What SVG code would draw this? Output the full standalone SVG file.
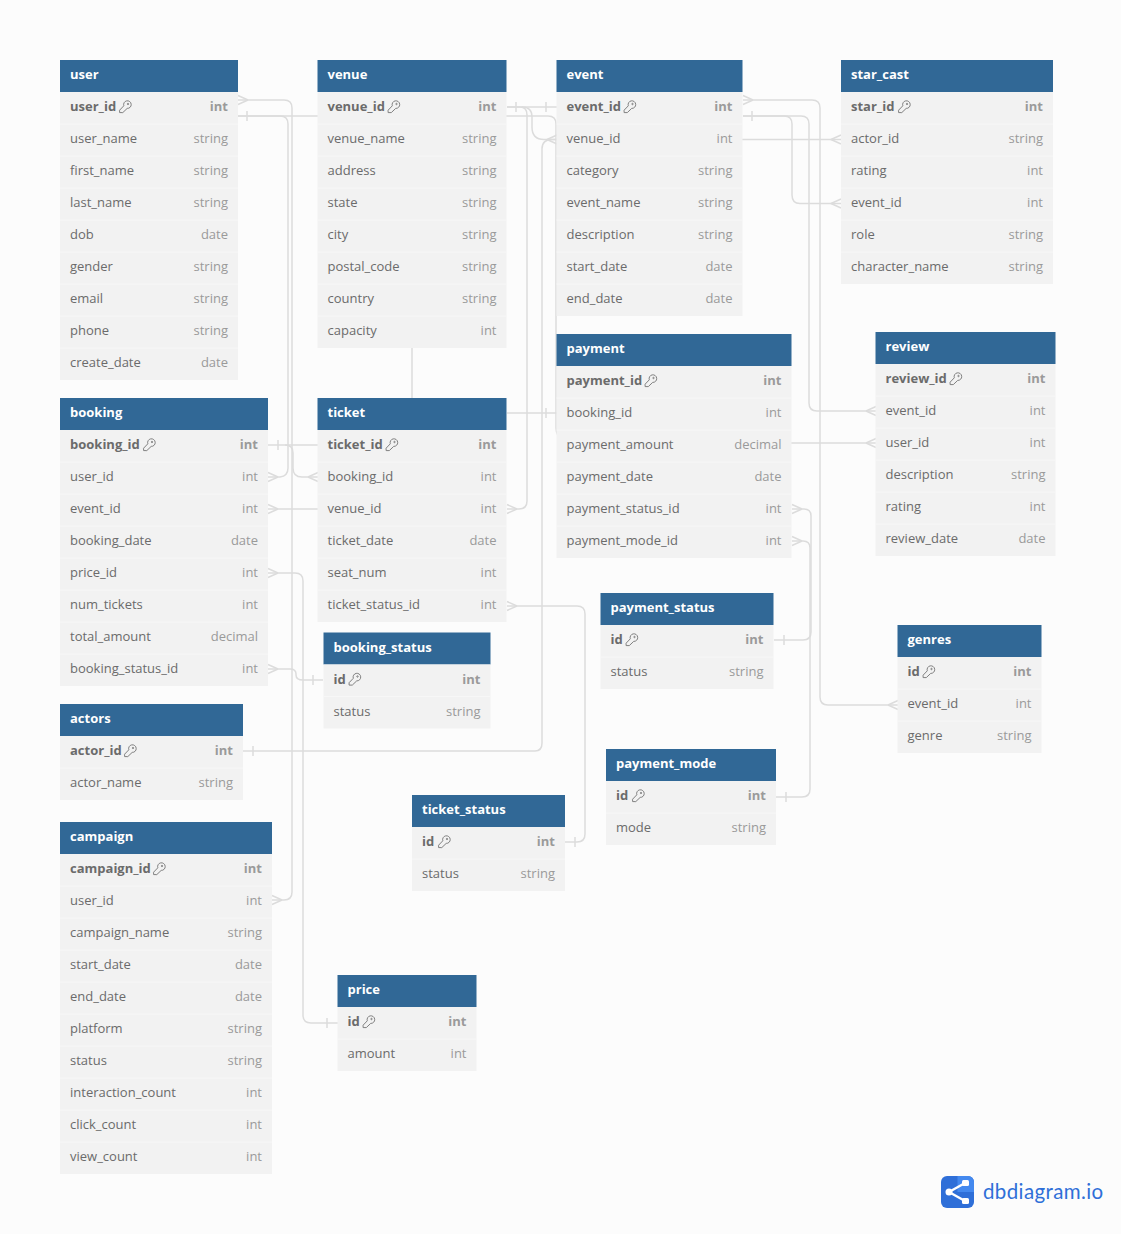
<svg xmlns="http://www.w3.org/2000/svg" width="1121" height="1234" viewBox="0 0 1121 1234">
<style>
text{font-family:"Open Sans","Noto Sans",sans-serif;font-size:13px;fill:#6b6b6b}
.h{fill:#316896}
.b{fill:#f2f2f2}
.s{stroke:#f7f7f7;stroke-width:1;fill:none}
.t{font-weight:700;fill:#fff}
.p{font-weight:700}
.ty{text-anchor:end;fill:#9a9a9a}
.pt{text-anchor:end;fill:#9a9a9a;font-weight:700}
.c path,.c use{fill:none;stroke:#dcdcdc;stroke-width:1.5}
.k{fill:none;stroke:#808080;stroke-width:1}
</style>
<defs>
<path id="crR" d="M0-4.500L10 0M0 4.500L10 0"/>
<path id="crL" d="M0-4.500L-10 0M0 4.500L-10 0"/>
<path id="tk" d="M0-5V5"/>
<g id="key"><path class="k" d="M4.800-1.200A3.800 3.800 0 1 1 8.200 1.400L3.800 5.600H0.600V3.200Z"/><circle cx="9" cy="-3" r=".7" class="k"/></g>
</defs>
<rect width="1121" height="1234" fill="#fcfcfc"/>
<g id="connectors" class="c">
<path d="M238 100H284Q292 100 292 108V892Q292 900 284 900H272"/>
<path d="M238 116H280Q288 116 288 124V468Q288 476 280 477H268"/>
<path d="M238 116H548Q556 116 556 124V428Q556 436 564 443H876"/>
<path d="M507 107H557"/>
<path d="M507 107H520Q527 107 527 115V501Q527 509 519 509H507"/>
<path d="M522 107Q532 107 532 117V127Q532 139.500 544 139.500H557"/>
<path d="M243 751H535Q542 751 542 743V149Q542 139.500 552 139.500H841"/>
<path d="M412 348V398"/>
<path d="M507 413H557"/>
<path d="M268 445H318"/>
<path d="M285 445Q293 445 293 453V468Q293 477 302 477H318"/>
<path d="M268 509H318"/>
<path d="M268 573H295Q303 573 303 581V1015Q303 1023 311 1023H338"/>
<path d="M268 669H290Q296 669 296 674V675Q296 680 303 680H323"/>
<path d="M507 606H577Q585 606 585 614V834Q585 842 577 842H565"/>
<path d="M743 100H812Q820 100 820 108V697Q820 705 828 705H898"/>
<path d="M743 116H784Q792 116 792 124V195Q792 203.500 800 203.500H841"/>
<path d="M743 116H801Q809 116 809 124V403Q809 411 817 411H876"/>
<path d="M792 509H804Q811 509 811 516V632Q811 640 803 640H774"/>
<path d="M792 541H803Q810 541 810 548V789Q810 797 802 797H776"/>
<use href="#crR" x="238" y="100"/><use href="#crR" x="272" y="900"/><use href="#tk" x="247" y="116"/><use href="#crR" x="268" y="477"/>
<use href="#crL" x="876" y="443"/><use href="#tk" x="516" y="107"/><use href="#tk" x="546" y="107"/><use href="#crR" x="507" y="509"/>
<use href="#crL" x="557" y="139.500"/><use href="#tk" x="253" y="751"/><use href="#crL" x="841" y="139.500"/><use href="#tk" x="546" y="413"/>
<use href="#tk" x="278" y="445"/><use href="#crL" x="318" y="477"/><use href="#crR" x="268" y="509"/><use href="#crR" x="268" y="573"/>
<use href="#tk" x="327" y="1023"/><use href="#crR" x="268" y="669"/><use href="#tk" x="313" y="680"/><use href="#crR" x="507" y="606"/>
<use href="#tk" x="575" y="842"/><use href="#crR" x="743" y="100"/><use href="#crL" x="898" y="705"/><use href="#tk" x="752" y="116"/>
<use href="#crL" x="841" y="203.500"/><use href="#crL" x="876" y="411"/><use href="#crR" x="792" y="509"/><use href="#tk" x="784" y="640"/>
<use href="#crR" x="792" y="541"/><use href="#tk" x="786" y="797"/>
</g>
<g id="user"><rect class="h" x="60" y="60" width="178" height="32"/><rect class="b" x="60" y="92" width="178" height="288"/><path class="s" d="M60 124h178M60 156h178M60 188h178M60 220h178M60 252h178M60 284h178M60 316h178M60 348h178"/><text class="t" x="70" y="79">user</text>
<text class="p" x="70" y="111">user_id</text><use href="#key" x="119" y="107"/><text class="pt" x="228" y="111">int</text>
<text x="70" y="143">user_name</text><text class="ty" x="228" y="143">string</text>
<text x="70" y="175">first_name</text><text class="ty" x="228" y="175">string</text>
<text x="70" y="207">last_name</text><text class="ty" x="228" y="207">string</text>
<text x="70" y="239">dob</text><text class="ty" x="228" y="239">date</text>
<text x="70" y="271">gender</text><text class="ty" x="228" y="271">string</text>
<text x="70" y="303">email</text><text class="ty" x="228" y="303">string</text>
<text x="70" y="335">phone</text><text class="ty" x="228" y="335">string</text>
<text x="70" y="367">create_date</text><text class="ty" x="228" y="367">date</text></g>
<g id="venue" transform="translate(-.5 0)"><rect class="h" x="318" y="60" width="189" height="32"/><rect class="b" x="318" y="92" width="189" height="256"/><path class="s" d="M318 124h189M318 156h189M318 188h189M318 220h189M318 252h189M318 284h189M318 316h189"/><text class="t" x="328" y="79">venue</text>
<text class="p" x="328" y="111">venue_id</text><use href="#key" x="388" y="107"/><text class="pt" x="497" y="111">int</text>
<text x="328" y="143">venue_name</text><text class="ty" x="497" y="143">string</text>
<text x="328" y="175">address</text><text class="ty" x="497" y="175">string</text>
<text x="328" y="207">state</text><text class="ty" x="497" y="207">string</text>
<text x="328" y="239">city</text><text class="ty" x="497" y="239">string</text>
<text x="328" y="271">postal_code</text><text class="ty" x="497" y="271">string</text>
<text x="328" y="303">country</text><text class="ty" x="497" y="303">string</text>
<text x="328" y="335">capacity</text><text class="ty" x="497" y="335">int</text></g>
<g id="event" transform="translate(-.5 0)"><rect class="h" x="557" y="60" width="186" height="32"/><rect class="b" x="557" y="92" width="186" height="224"/><path class="s" d="M557 124h186M557 156h186M557 188h186M557 220h186M557 252h186M557 284h186"/><text class="t" x="567" y="79">event</text>
<text class="p" x="567" y="111">event_id</text><use href="#key" x="624" y="107"/><text class="pt" x="733" y="111">int</text>
<text x="567" y="143">venue_id</text><text class="ty" x="733" y="143">int</text>
<text x="567" y="175">category</text><text class="ty" x="733" y="175">string</text>
<text x="567" y="207">event_name</text><text class="ty" x="733" y="207">string</text>
<text x="567" y="239">description</text><text class="ty" x="733" y="239">string</text>
<text x="567" y="271">start_date</text><text class="ty" x="733" y="271">date</text>
<text x="567" y="303">end_date</text><text class="ty" x="733" y="303">date</text></g>
<g id="star_cast"><rect class="h" x="841" y="60" width="212" height="32"/><rect class="b" x="841" y="92" width="212" height="192"/><path class="s" d="M841 124h212M841 156h212M841 188h212M841 220h212M841 252h212"/><text class="t" x="851" y="79">star_cast</text>
<text class="p" x="851" y="111">star_id</text><use href="#key" x="898" y="107"/><text class="pt" x="1043" y="111">int</text>
<text x="851" y="143">actor_id</text><text class="ty" x="1043" y="143">string</text>
<text x="851" y="175">rating</text><text class="ty" x="1043" y="175">int</text>
<text x="851" y="207">event_id</text><text class="ty" x="1043" y="207">int</text>
<text x="851" y="239">role</text><text class="ty" x="1043" y="239">string</text>
<text x="851" y="271">character_name</text><text class="ty" x="1043" y="271">string</text></g>
<g id="payment" transform="translate(-.5 0)"><rect class="h" x="557" y="334" width="235" height="32"/><rect class="b" x="557" y="366" width="235" height="192"/><path class="s" d="M557 398h235M557 430h235M557 462h235M557 494h235M557 526h235"/><text class="t" x="567" y="353">payment</text>
<text class="p" x="567" y="385">payment_id</text><use href="#key" x="645" y="381"/><text class="pt" x="782" y="385">int</text>
<text x="567" y="417">booking_id</text><text class="ty" x="782" y="417">int</text>
<text x="567" y="449">payment_amount</text><text class="ty" x="782" y="449">decimal</text>
<text x="567" y="481">payment_date</text><text class="ty" x="782" y="481">date</text>
<text x="567" y="513">payment_status_id</text><text class="ty" x="782" y="513">int</text>
<text x="567" y="545">payment_mode_id</text><text class="ty" x="782" y="545">int</text></g>
<g id="review" transform="translate(-.5 0)"><rect class="h" x="876" y="332" width="180" height="32"/><rect class="b" x="876" y="364" width="180" height="192"/><path class="s" d="M876 396h180M876 428h180M876 460h180M876 492h180M876 524h180"/><text class="t" x="886" y="351">review</text>
<text class="p" x="886" y="383">review_id</text><use href="#key" x="950" y="379"/><text class="pt" x="1046" y="383">int</text>
<text x="886" y="415">event_id</text><text class="ty" x="1046" y="415">int</text>
<text x="886" y="447">user_id</text><text class="ty" x="1046" y="447">int</text>
<text x="886" y="479">description</text><text class="ty" x="1046" y="479">string</text>
<text x="886" y="511">rating</text><text class="ty" x="1046" y="511">int</text>
<text x="886" y="543">review_date</text><text class="ty" x="1046" y="543">date</text></g>
<g id="booking"><rect class="h" x="60" y="398" width="208" height="32"/><rect class="b" x="60" y="430" width="208" height="256"/><path class="s" d="M60 462h208M60 494h208M60 526h208M60 558h208M60 590h208M60 622h208M60 654h208"/><text class="t" x="70" y="417">booking</text>
<text class="p" x="70" y="449">booking_id</text><use href="#key" x="143" y="445"/><text class="pt" x="258" y="449">int</text>
<text x="70" y="481">user_id</text><text class="ty" x="258" y="481">int</text>
<text x="70" y="513">event_id</text><text class="ty" x="258" y="513">int</text>
<text x="70" y="545">booking_date</text><text class="ty" x="258" y="545">date</text>
<text x="70" y="577">price_id</text><text class="ty" x="258" y="577">int</text>
<text x="70" y="609">num_tickets</text><text class="ty" x="258" y="609">int</text>
<text x="70" y="641">total_amount</text><text class="ty" x="258" y="641">decimal</text>
<text x="70" y="673">booking_status_id</text><text class="ty" x="258" y="673">int</text></g>
<g id="ticket" transform="translate(-.5 0)"><rect class="h" x="318" y="398" width="189" height="32"/><rect class="b" x="318" y="430" width="189" height="192"/><path class="s" d="M318 462h189M318 494h189M318 526h189M318 558h189M318 590h189"/><text class="t" x="328" y="417">ticket</text>
<text class="p" x="328" y="449">ticket_id</text><use href="#key" x="386" y="445"/><text class="pt" x="497" y="449">int</text>
<text x="328" y="481">booking_id</text><text class="ty" x="497" y="481">int</text>
<text x="328" y="513">venue_id</text><text class="ty" x="497" y="513">int</text>
<text x="328" y="545">ticket_date</text><text class="ty" x="497" y="545">date</text>
<text x="328" y="577">seat_num</text><text class="ty" x="497" y="577">int</text>
<text x="328" y="609">ticket_status_id</text><text class="ty" x="497" y="609">int</text></g>
<g id="booking_status" transform="translate(.5 .5)"><rect class="h" x="323" y="632" width="167" height="32"/><rect class="b" x="323" y="664" width="167" height="64"/><path class="s" d="M323 696h167"/><text class="t" x="333" y="651">booking_status</text>
<text class="p" x="333" y="683">id</text><use href="#key" x="348" y="679"/><text class="pt" x="480" y="683">int</text>
<text x="333" y="715">status</text><text class="ty" x="480" y="715">string</text></g>
<g id="actors"><rect class="h" x="60" y="704" width="183" height="32"/><rect class="b" x="60" y="736" width="183" height="64"/><path class="s" d="M60 768h183"/><text class="t" x="70" y="723">actors</text>
<text class="p" x="70" y="755">actor_id</text><use href="#key" x="124" y="751"/><text class="pt" x="233" y="755">int</text>
<text x="70" y="787">actor_name</text><text class="ty" x="233" y="787">string</text></g>
<g id="campaign"><rect class="h" x="60" y="822" width="212" height="32"/><rect class="b" x="60" y="854" width="212" height="320"/><path class="s" d="M60 886h212M60 918h212M60 950h212M60 982h212M60 1014h212M60 1046h212M60 1078h212M60 1110h212M60 1142h212"/><text class="t" x="70" y="841">campaign</text>
<text class="p" x="70" y="873">campaign_id</text><use href="#key" x="153" y="869"/><text class="pt" x="262" y="873">int</text>
<text x="70" y="905">user_id</text><text class="ty" x="262" y="905">int</text>
<text x="70" y="937">campaign_name</text><text class="ty" x="262" y="937">string</text>
<text x="70" y="969">start_date</text><text class="ty" x="262" y="969">date</text>
<text x="70" y="1001">end_date</text><text class="ty" x="262" y="1001">date</text>
<text x="70" y="1033">platform</text><text class="ty" x="262" y="1033">string</text>
<text x="70" y="1065">status</text><text class="ty" x="262" y="1065">string</text>
<text x="70" y="1097">interaction_count</text><text class="ty" x="262" y="1097">int</text>
<text x="70" y="1129">click_count</text><text class="ty" x="262" y="1129">int</text>
<text x="70" y="1161">view_count</text><text class="ty" x="262" y="1161">int</text></g>
<g id="ticket_status"><rect class="h" x="412" y="795" width="153" height="32"/><rect class="b" x="412" y="827" width="153" height="64"/><path class="s" d="M412 859h153"/><text class="t" x="422" y="814">ticket_status</text>
<text class="p" x="422" y="846">id</text><use href="#key" x="438" y="842"/><text class="pt" x="555" y="846">int</text>
<text x="422" y="878">status</text><text class="ty" x="555" y="878">string</text></g>
<g id="price" transform="translate(-.5 0)"><rect class="h" x="338" y="975" width="139" height="32"/><rect class="b" x="338" y="1007" width="139" height="64"/><path class="s" d="M338 1039h139"/><text class="t" x="348" y="994">price</text>
<text class="p" x="348" y="1026">id</text><use href="#key" x="363" y="1022"/><text class="pt" x="467" y="1026">int</text>
<text x="348" y="1058">amount</text><text class="ty" x="467" y="1058">int</text></g>
<g id="payment_status" transform="translate(-.5 0)"><rect class="h" x="601" y="593" width="173" height="32"/><rect class="b" x="601" y="625" width="173" height="64"/><path class="s" d="M601 657h173"/><text class="t" x="611" y="612">payment_status</text>
<text class="p" x="611" y="644">id</text><use href="#key" x="626" y="640"/><text class="pt" x="764" y="644">int</text>
<text x="611" y="676">status</text><text class="ty" x="764" y="676">string</text></g>
<g id="payment_mode"><rect class="h" x="606" y="749" width="170" height="32"/><rect class="b" x="606" y="781" width="170" height="64"/><path class="s" d="M606 813h170"/><text class="t" x="616" y="768">payment_mode</text>
<text class="p" x="616" y="800">id</text><use href="#key" x="632" y="796"/><text class="pt" x="766" y="800">int</text>
<text x="616" y="832">mode</text><text class="ty" x="766" y="832">string</text></g>
<g id="genres" transform="translate(-.5 0)"><rect class="h" x="898" y="625" width="144" height="32"/><rect class="b" x="898" y="657" width="144" height="96"/><path class="s" d="M898 689h144M898 721h144"/><text class="t" x="908" y="644">genres</text>
<text class="p" x="908" y="676">id</text><use href="#key" x="923" y="672"/><text class="pt" x="1032" y="676">int</text>
<text x="908" y="708">event_id</text><text class="ty" x="1032" y="708">int</text>
<text x="908" y="740">genre</text><text class="ty" x="1032" y="740">string</text></g>
<g id="logo"><rect x="941" y="1176" width="33" height="32" rx="6" fill="#2f6fd8"/><path d="M957.500 1176H968a6 6 0 0 1 6 6V1192H957.500Z" fill="#4489ef"/><path d="M949 1192L965 1183M949 1192L965 1201" stroke="#fff" stroke-width="2.500" fill="none"/><circle cx="949" cy="1192" r="3.500" fill="#fff"/><rect x="962" y="1180" width="7" height="6" rx="1.500" fill="#fff"/><rect x="962" y="1198" width="7" height="6" rx="1.500" fill="#fff"/>
<text x="983" y="1199" style="font-family:Lato,sans-serif;font-size:20.500px;letter-spacing:.38px;fill:#2f6fd8">dbdiagram.io</text></g>
</svg>
